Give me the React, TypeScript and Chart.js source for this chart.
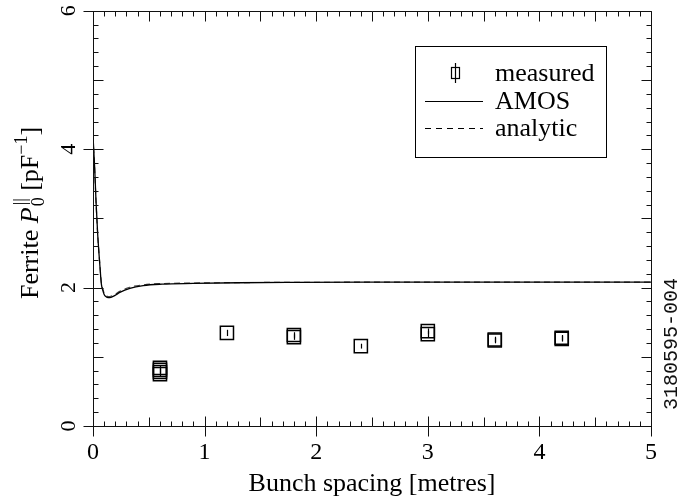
import React, { useEffect, useRef } from 'react';
import { Chart, registerables } from 'chart.js';

Chart.register(...registerables);

// ---- data ----
const amosX = [0, 0.015, 0.027, 0.042, 0.063, 0.075, 0.09, 0.1, 0.115, 0.137, 0.16, 0.2, 0.24, 0.33, 0.45, 0.62, 0.9, 1.3, 1.8, 2.5, 3.5, 5];
const amosY = [4.19, 3.73, 3.25, 2.77, 2.29, 2.05, 1.95, 1.9, 1.87, 1.855, 1.86, 1.89, 1.93, 1.99, 2.03, 2.05, 2.06, 2.07, 2.075, 2.078, 2.078, 2.078];

const analyticX = [0, 0.015, 0.027, 0.042, 0.063, 0.075, 0.09, 0.1, 0.115, 0.137, 0.16, 0.2, 0.24, 0.33, 0.45, 0.62, 0.9, 1.3, 1.8, 2.5, 3.5, 5];
const analyticY = [4.17, 3.71, 3.24, 2.77, 2.3, 2.07, 1.97, 1.92, 1.885, 1.87, 1.875, 1.905, 1.945, 2.005, 2.04, 2.058, 2.066, 2.072, 2.076, 2.078, 2.078, 2.078];

const measuredX = [0.6, 0.6, 0.6, 0.6, 1.2, 1.8, 1.8, 2.4, 3.0, 3.0, 3.6, 3.6, 4.2, 4.2];
const measuredY = [0.75, 0.78, 0.81, 0.84, 1.345, 1.285, 1.315, 1.154, 1.327, 1.37, 1.235, 1.25, 1.26, 1.275];
const measuredErr = [0.04, 0.04, 0.04, 0.04, 0.045, 0.04, 0.04, 0.035, 0.045, 0.04, 0.04, 0.04, 0.04, 0.04];

const xTicks = [0, 1, 2, 3, 4, 5];
const yTicks = [0, 2, 4, 6];
const xTickLabels = ['0', '1', '2', '3', '4', '5'];
const yTickLabels = ['0', '2', '4', '6'];

const seriesLabels = ['measured', 'AMOS', 'analytic'];
const xTitle = 'Bunch spacing [metres]';
const figureId = '3180595-004';

const SERIF = '"Liberation Serif", "Times New Roman", serif';
const MONO = '"Liberation Mono", "DejaVu Sans Mono", monospace';

const framePlugin = {
  id: 'frame',
  afterDatasetsDraw(chart: any) {
    const ctx = chart.ctx;
    const xs = chart.scales.x;
    const ys = chart.scales.y;
    ctx.save();
    ctx.strokeStyle = '#000';
    ctx.lineWidth = 1.2;
    for (let i = 0; i < measuredX.length; i++) {
      const px = Math.round(xs.getPixelForValue(measuredX[i])) + 0.5;
      const y1 = ys.getPixelForValue(measuredY[i] - measuredErr[i]);
      const y2 = ys.getPixelForValue(measuredY[i] + measuredErr[i]);
      ctx.beginPath();
      ctx.moveTo(px, y1);
      ctx.lineTo(px, y2);
      ctx.stroke();
    }
    ctx.restore();
  },
  afterDraw(chart: any) {
    const ctx = chart.ctx;
    const xs = chart.scales.x;
    const ys = chart.scales.y;
    const { left, right, top, bottom } = chart.chartArea;
    const L = Math.round(left) + 0.5;
    const R = Math.round(right) + 0.5;
    const T = Math.round(top) + 0.5;
    const B = Math.round(bottom) + 0.5;
    ctx.save();
    ctx.strokeStyle = '#111';
    ctx.lineWidth = 1;
    ctx.beginPath();
    ctx.rect(L, T, R - L, B - T);
    ctx.stroke();

    // x ticks
    ctx.beginPath();
    for (let i = 0; i <= 50; i++) {
      const v = i / 10;
      const px = Math.round(xs.getPixelForValue(v)) + 0.5;
      let inLen = 5;
      let outLen = 0;
      if (i % 10 === 0) { inLen = 10; outLen = 10; }
      else if (i % 5 === 0) { inLen = 9; }
      ctx.moveTo(px, B + outLen);
      ctx.lineTo(px, B - inLen);
      ctx.moveTo(px, T);
      ctx.lineTo(px, T + (i % 5 === 0 ? 10 : 5));
    }
    // y ticks
    for (let i = 0; i <= 30; i++) {
      const v = i / 5;
      const py = Math.round(ys.getPixelForValue(v)) + 0.5;
      let inLen = 5;
      let outLen = 0;
      if (i % 10 === 0) { inLen = 10; outLen = 10; }
      else if (i % 5 === 0) { inLen = 10; }
      ctx.moveTo(L - outLen, py);
      ctx.lineTo(L + inLen, py);
      ctx.moveTo(R, py);
      ctx.lineTo(R - (i % 5 === 0 ? 10 : 5), py);
    }
    ctx.stroke();

    // tick labels
    ctx.fillStyle = '#000';
    ctx.font = '24px ' + SERIF;
    ctx.textAlign = 'center';
    ctx.textBaseline = 'middle';
    xTicks.forEach((v, i) => {
      ctx.fillText(xTickLabels[i], xs.getPixelForValue(v), 453);
    });
    ctx.font = '22px ' + SERIF;
    ctx.textBaseline = 'alphabetic';
    yTicks.forEach((v, i) => {
      ctx.save();
      ctx.translate(75, ys.getPixelForValue(v));
      ctx.rotate(-Math.PI / 2);
      ctx.fillText(yTickLabels[i], 0, 0);
      ctx.restore();
    });

    // x title
    ctx.font = '26px ' + SERIF;
    ctx.textAlign = 'center';
    ctx.textBaseline = 'middle';
    ctx.fillText(xTitle, (left + right) / 2, 484);

    // y title (rotated, with sub/superscripts)
    ctx.save();
    ctx.translate(38, 213);
    ctx.rotate(-Math.PI / 2);
    ctx.textAlign = 'left';
    ctx.textBaseline = 'alphabetic';
    const big = '26px ' + SERIF;
    const ital = 'italic 26px ' + SERIF;
    const small = '18px ' + SERIF;
    const measure = (t: string, f: string) => { ctx.font = f; return ctx.measureText(t).width; };
    const wA = measure('Ferrite ', big);
    const wP = measure('P', ital);
    const wSub = Math.max(measure('0', small), measure('||', small));
    const wB = measure(' [pF', big);
    const wSup = measure('\u22121', small);
    const wC = measure(']', big);
    const total = wA + wP + 1 + wSub + wB + wSup + wC;
    let x = -total / 2;
    ctx.font = big; ctx.fillText('Ferrite ', x, 0); x += wA;
    ctx.font = ital; ctx.fillText('P', x, 0); x += wP + 1;
    ctx.font = small; ctx.fillText('0', x, 6); ctx.fillText('||', x + 1, -12); x += wSub;
    ctx.font = big; ctx.fillText(' [pF', x, 0); x += wB;
    ctx.font = small; ctx.fillText('\u22121', x, -11); x += wSup;
    ctx.font = big; ctx.fillText(']', x, 0);
    ctx.restore();

    // figure id on the right
    ctx.save();
    ctx.translate(672, 344);
    ctx.rotate(-Math.PI / 2);
    ctx.font = '20px ' + MONO;
    ctx.textAlign = 'center';
    ctx.textBaseline = 'middle';
    ctx.fillStyle = '#111';
    ctx.fillText(figureId, 0, 0);
    ctx.restore();

    // legend
    ctx.strokeStyle = '#000';
    ctx.lineWidth = 1;
    ctx.strokeRect(415.5, 46.5, 191, 111);
    ctx.font = '26px ' + SERIF;
    ctx.textAlign = 'left';
    ctx.textBaseline = 'middle';
    ctx.fillStyle = '#000';
    const rows = [73, 101, 128];
    // measured symbol
    ctx.lineWidth = 1.2;
    ctx.strokeRect(451.5, 67.5, 8, 11);
    ctx.beginPath();
    ctx.moveTo(455.5, 63);
    ctx.lineTo(455.5, 83);
    ctx.stroke();
    // AMOS line
    ctx.lineWidth = 1.2;
    ctx.beginPath();
    ctx.moveTo(425, rows[1] + 0.5);
    ctx.lineTo(483, rows[1] + 0.5);
    ctx.stroke();
    // analytic line
    ctx.setLineDash([6, 5]);
    ctx.beginPath();
    ctx.moveTo(425, rows[2] + 0.5);
    ctx.lineTo(483, rows[2] + 0.5);
    ctx.stroke();
    ctx.setLineDash([]);
    seriesLabels.forEach((s, i) => ctx.fillText(s, 495, rows[i] + 1));
    ctx.restore();
  },
};

export default function App() {
  const ref = useRef<HTMLCanvasElement | null>(null);
  useEffect(() => {
    document.body.style.margin = '0';
    const canvas = ref.current;
    if (!canvas) return;
    const chart = new Chart(canvas, {
      type: 'scatter',
      data: {
        datasets: [
          {
            label: seriesLabels[0],
            type: 'scatter',
            data: measuredX.map((x, i) => ({ x, y: measuredY[i] })),
            pointStyle: 'rect',
            pointRadius: 9.3,
            pointHoverRadius: 9.3,
            borderColor: '#000',
            backgroundColor: 'rgba(0,0,0,0)',
            pointBorderWidth: 1.5,
            borderWidth: 1.5,
          } as any,
          {
            label: seriesLabels[1],
            type: 'line',
            data: amosX.map((x, i) => ({ x, y: amosY[i] })),
            borderColor: '#000',
            borderWidth: 1.3,
            pointRadius: 0,
            cubicInterpolationMode: 'monotone',
            fill: false,
          } as any,
          {
            label: seriesLabels[2],
            type: 'line',
            data: analyticX.map((x, i) => ({ x, y: analyticY[i] })),
            borderColor: '#444',
            borderWidth: 1.2,
            borderDash: [6, 4],
            pointRadius: 0,
            cubicInterpolationMode: 'monotone',
            fill: false,
          } as any,
        ],
      },
      options: {
        responsive: false,
        devicePixelRatio: 1,
        animation: false,
        events: [],
        layout: { padding: { top: 9, right: 38, left: 0, bottom: 0 } },
        plugins: { legend: { display: false }, tooltip: { enabled: false } },
        scales: {
          x: {
            type: 'linear',
            min: 0,
            max: 5,
            grid: { display: false, drawTicks: false },
            border: { display: false },
            ticks: { display: false },
            afterFit: (s: any) => { s.height = 74; s.paddingLeft = 0; s.paddingRight = 0; },
          },
          y: {
            type: 'linear',
            min: 0,
            max: 6,
            grid: { display: false, drawTicks: false },
            border: { display: false },
            ticks: { display: false },
            afterFit: (s: any) => { s.width = 93; s.paddingTop = 0; s.paddingBottom = 0; },
          },
        },
      },
      plugins: [framePlugin],
    });
    return () => chart.destroy();
  }, []);
  return <canvas ref={ref} width={689} height={500} style={{ display: 'block' }} />;
}
